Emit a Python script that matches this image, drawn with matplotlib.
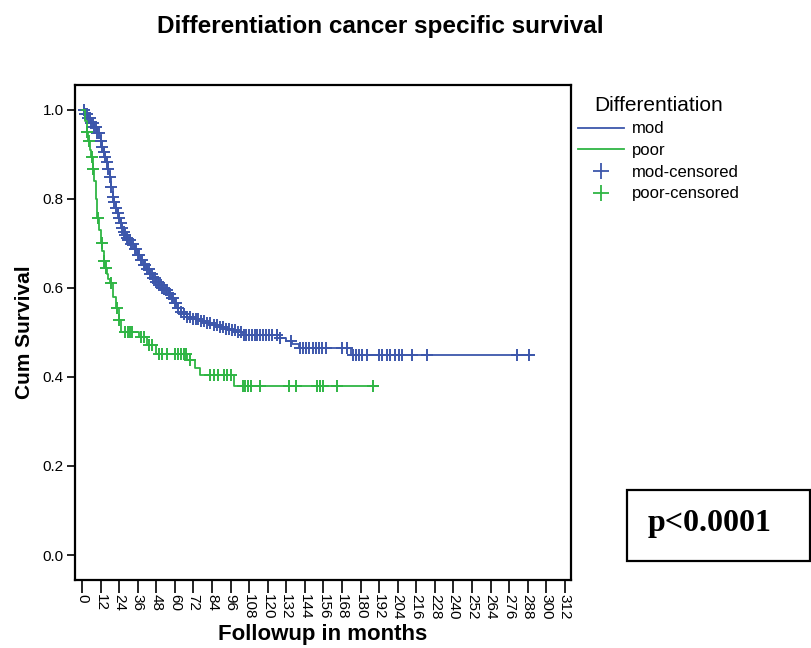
import numpy as np
import matplotlib
matplotlib.use("Agg")
import matplotlib.pyplot as plt
from matplotlib.lines import Line2D
from matplotlib.patches import Rectangle

plt.rcParams["font.family"] = ["Liberation Sans", "DejaVu Sans"]

# step function of the "mod" group: event times (months) and survival after each step
mod_t = [0, 2, 4, 6, 8, 10, 12, 13, 14, 15, 16, 17, 18, 19, 20, 21, 22, 23, 24, 25,
         26, 27, 28, 29, 30, 32, 34, 36, 38, 40, 42, 44, 46, 48, 50, 52, 54, 56, 58,
         60, 62, 64, 66, 68, 72, 76, 80, 84, 88, 92, 96, 100, 104, 128, 132, 136, 140, 174]
mod_s = [1.0, 0.99, 0.98, 0.97, 0.96, 0.947, 0.93, 0.916, 0.905, 0.893, 0.882, 0.866,
         0.849, 0.826, 0.804, 0.792, 0.78, 0.768, 0.756, 0.745, 0.733, 0.725, 0.718,
         0.712, 0.706, 0.698, 0.688, 0.674, 0.662, 0.652, 0.641, 0.63, 0.622, 0.613,
         0.606, 0.6, 0.595, 0.586, 0.576, 0.566, 0.555, 0.545, 0.54, 0.535, 0.53, 0.525,
         0.52, 0.516, 0.512, 0.508, 0.504, 0.5, 0.495, 0.487, 0.48, 0.473, 0.465, 0.449]
mod_end = 292
mod_cens = [1, 2, 3, 4, 5, 6, 7, 8, 9, 10, 11, 12, 13, 14, 15, 16, 17, 18, 19, 20, 21,
            22, 23, 24, 25, 26, 27, 28, 29, 30, 31, 32, 33, 34, 35, 36, 37, 38, 39, 40,
            41, 42, 43, 44, 45, 46, 47, 48, 49, 50, 51, 52, 53, 54, 55, 56, 57, 58, 59,
            60, 61, 62, 64, 66, 68, 70, 72, 74, 75, 77, 79, 81, 83, 85, 87, 89, 91, 93,
            95, 97, 99, 101, 103, 105, 106, 108, 110, 112, 113, 115, 117, 119, 121, 123,
            126, 128, 135, 141, 143, 145, 147, 149, 151, 153, 155, 158, 168, 171, 175,
            177, 179, 181, 184, 192, 194, 197, 199, 202, 205, 207, 213, 223, 281, 289]

# step function of the "poor" group
poor_t = [0, 2, 3, 4, 5, 6, 7, 8, 9, 10, 11, 12, 13, 14, 15, 16, 17, 18, 20, 22, 24,
          25, 37, 42, 48, 68, 73, 76, 98]
poor_s = [1.0, 0.975, 0.95, 0.93, 0.91, 0.893, 0.866, 0.84, 0.8, 0.756, 0.73, 0.7,
          0.682, 0.66, 0.645, 0.63, 0.62, 0.61, 0.58, 0.554, 0.527, 0.5, 0.49, 0.472,
          0.452, 0.438, 0.42, 0.404, 0.379]
poor_end = 191
poor_cens = [3, 4.5, 6.5, 7.1, 10.3, 12.9, 14.2, 15.5, 18.5, 22.6, 24, 28, 29.5, 31,
             32.5, 38, 40, 43, 45, 50, 52, 55, 60, 62, 64, 66, 67, 70, 83, 85, 88, 92,
             94, 96, 104, 105.5, 107, 109, 115, 134, 138, 152, 154, 156, 165, 188]

x_ticks = list(range(0, 313, 12))
y_ticks = [0.0, 0.2, 0.4, 0.6, 0.8, 1.0]

blue = "#3d57ab"
green = "#2fb544"


def step_at(t, times, surv):
    idx = np.searchsorted(times, t, side="right") - 1
    return np.asarray(surv)[idx]


fig = plt.figure(figsize=(8.12, 6.48), dpi=100)
ax = fig.add_axes([75 / 812, 1 - 580 / 648, 496 / 812, 495 / 648])

for times, surv, end, cens, color in [
    (mod_t, mod_s, mod_end, mod_cens, blue),
    (poor_t, poor_s, poor_end, poor_cens, green),
]:
    xs = list(times) + [end]
    ys = list(surv) + [surv[-1]]
    ax.step(xs, ys, where="post", color=color, lw=1.3)
    ax.plot(cens, step_at(cens, times, surv), linestyle="none", marker="+",
            markersize=8, markeredgewidth=1.4, color=color)

ax.set_xlim(-4.5, 316)
ax.set_ylim(-0.056, 1.055)
ax.set_xticks(x_ticks)
ax.set_xticklabels([str(v) for v in x_ticks], rotation=-90, fontsize=11)
ax.set_yticks(y_ticks)
ax.set_yticklabels([f"{v:.1f}" for v in y_ticks], fontsize=11)
ax.tick_params(axis="x", direction="out", length=9, width=1.2, pad=1)
ax.tick_params(axis="y", direction="out", length=6, width=1.2, pad=2)
for sp in ax.spines.values():
    sp.set_linewidth(1.6)

ax.set_xlabel("Followup in months", fontsize=16, fontweight="bold", labelpad=3)
ax.set_ylabel("Cum Survival", fontsize=15, fontweight="bold", labelpad=6)
fig.text(380 / 812, 1 - 27 / 648, "Differentiation cancer specific survival",
         ha="center", va="center", fontsize=17.5, fontweight="bold")

handles = [
    Line2D([], [], color=blue, lw=1.3),
    Line2D([], [], color=green, lw=1.3),
    Line2D([], [], color=blue, linestyle="none", marker="+", markersize=12, markeredgewidth=1.3),
    Line2D([], [], color=green, linestyle="none", marker="+", markersize=12, markeredgewidth=1.3),
]
labels = ["mod", "poor", "mod-censored", "poor-censored"]
leg = fig.legend(handles, labels, title="Differentiation", loc="upper left",
                 bbox_to_anchor=(566 / 812, 1 - 84 / 648), frameon=False,
                 fontsize=12, title_fontsize=15, handlelength=2.8,
                 handletextpad=0.45, labelspacing=0.4, borderpad=0.2)

fig.add_artist(Rectangle((627 / 812, 1 - 561 / 648), 183 / 812, 71 / 648,
                         transform=fig.transFigure, fill=False, lw=1.6, color="black"))
fig.text(648 / 812, 1 - 524 / 648, "p<0.0001", ha="left", va="center",
         fontsize=23, fontweight="bold", family=["Liberation Serif", "DejaVu Serif"])

fig.savefig("out.png", dpi=100)
